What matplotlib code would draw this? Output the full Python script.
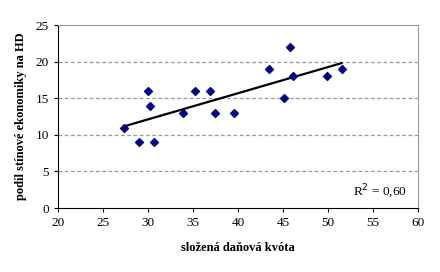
import numpy as np
import matplotlib.pyplot as plt

# složená daňová kvóta vs. podíl stínové ekonomiky
kvota = [27.3, 29.0, 30.0, 30.2, 30.7, 33.9, 35.2, 36.9, 37.4, 39.6,
         43.4, 45.1, 45.8, 46.1, 49.9, 51.5]
stin = [11, 9, 16, 14, 9, 13, 16, 16, 13, 13, 19, 15, 22, 18, 18, 19]

plt.rcParams['font.family'] = ['Liberation Serif', 'DejaVu Serif']

fig = plt.figure(figsize=(4.4, 2.72), dpi=100)
ax = fig.add_axes([0.132, 0.235, 0.818, 0.673])

x = np.array(kvota)
y = np.array(stin)
k, q = np.polyfit(x, y, 1)
xs = np.array([x.min(), x.max()])
ax.plot(xs, k * xs + q, color='black', lw=1.6, zorder=2)
ax.scatter(x, y, marker='D', s=16, color='#000080', zorder=3)

ax.set_xlim(20, 60)
ax.set_ylim(0, 25)
ax.set_xticks(range(20, 61, 5))
ax.set_yticks(range(0, 26, 5))
for g in [5, 10, 15, 20]:
    ax.axhline(g, color='#999999', ls=(0, (3, 2)), lw=0.9, zorder=1)

ax.spines['top'].set_color('#999999')
ax.spines['right'].set_color('#999999')
ax.tick_params(labelsize=9.5, length=3, width=0.8)

ax.set_xlabel('složená daňová kvóta', fontsize=9, fontweight='bold', labelpad=9)
ax.set_ylabel('podíl stínové ekonomiky na HD', fontsize=9, fontweight='bold', labelpad=6)
ax.text(0.97, 0.09, 'R$^2$ = 0,60', transform=ax.transAxes, ha='right', va='center', fontsize=9.5)

fig.savefig('out.png', dpi=100)
